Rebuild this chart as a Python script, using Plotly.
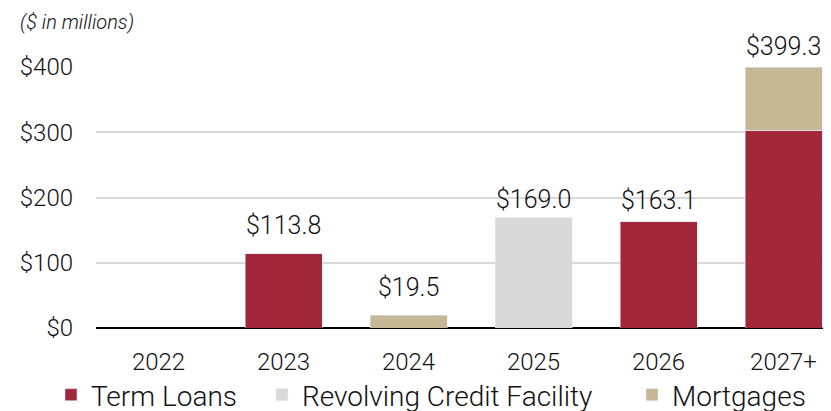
import plotly.graph_objects as go

years = ["2022", "2023", "2024", "2025", "2026", "2027+"]
term_loans = [0, 113.8, 0, 0, 163.1, 303.0]
revolving = [0, 0, 0, 169.0, 0, 0]
mortgages = [0, 0, 19.5, 0, 0, 96.3]
totals = [None, 113.8, 19.5, 169.0, 163.1, 399.3]
total_labels = ["", "$113.8", "$19.5", "$169.0", "$163.1", "$399.3"]
label_yshift = [0, 12, 11, 2, 5, 4]   # pixel offsets of the value labels (style only)

FONT = "Roboto"
W = 300
red = "#A0283A"
gray = "#D9D9D9"
beige = "#C4B896"
TXT = "#111111"

# page body has an 8px default margin: figure is sized/offset to compensate
FW, FH = 823, 403
L, T, B, R = 88, 59, 83, 0
PW, PH = FW - L - R, FH - T - B

def px_x(screen_x):
    return (screen_x - 8 - L) / PW

def px_y(screen_y):
    return (PH + T - (screen_y - 8)) / PH

fig = go.Figure()
fig.add_bar(x=years, y=term_loans, name="Term Loans", marker_color=red, width=0.616,
            legend="legend", showlegend=True)
fig.add_bar(x=years, y=revolving, name="Revolving Credit Facility", marker_color=gray, width=0.616,
            legend="legend2", showlegend=True)
fig.add_bar(x=years, y=mortgages, name="Mortgages", marker_color=beige, width=0.616,
            legend="legend3", showlegend=True)

annotations = []
for i, (tot, lab, sh) in enumerate(zip(totals, total_labels, label_yshift)):
    if tot is None:
        continue
    annotations.append(dict(x=i, y=tot, text=lab, showarrow=False, xref="x", yref="y",
                            yanchor="bottom", yshift=sh,
                            font=dict(size=25, color=TXT, family=FONT, weight=W)))
annotations.append(dict(text="<i>($ in millions)</i>", xref="paper", yref="paper",
                        x=px_x(18), xanchor="left", y=px_y(22), yanchor="middle",
                        showarrow=False, font=dict(size=20, color=TXT, family=FONT, weight=W)))

leg_common = dict(orientation="h", xanchor="left", yanchor="middle", y=px_y(395),
                  font=dict(size=28, family=FONT, weight=W, color=TXT), itemwidth=30,
                  bgcolor="rgba(0,0,0,0)", visible=True)

fig.update_layout(
    barmode="stack",
    showlegend=True,
    width=FW, height=FH,
    margin=dict(l=L, r=R, t=T, b=B, autoexpand=False),
    plot_bgcolor="white", paper_bgcolor="white",
    font=dict(family=FONT, size=24, color=TXT, weight=W),
    xaxis=dict(range=[-0.5, 5.38], showgrid=False, ticks="",
               tickfont=dict(size=24, family=FONT, weight=W, color=TXT),
               showline=False, zeroline=False, ticklabelstandoff=17),
    yaxis=dict(range=[0, 400], tickvals=[0, 100, 200, 300, 400],
               ticktext=["$0", "$100", "$200", "$300", "$400"],
               showgrid=True, gridcolor="#D9D9D9", gridwidth=1.5,
               zeroline=True, zerolinecolor="#000000", zerolinewidth=1.5,
               ticklabelstandoff=22, tickfont=dict(size=24, family=FONT, weight=W, color=TXT)),
    legend=dict(leg_common, x=px_x(51)),
    legend2=dict(leg_common, x=px_x(262)),
    legend3=dict(leg_common, x=px_x(632)),
    annotations=annotations,
)
fig.write_html("out.html")
